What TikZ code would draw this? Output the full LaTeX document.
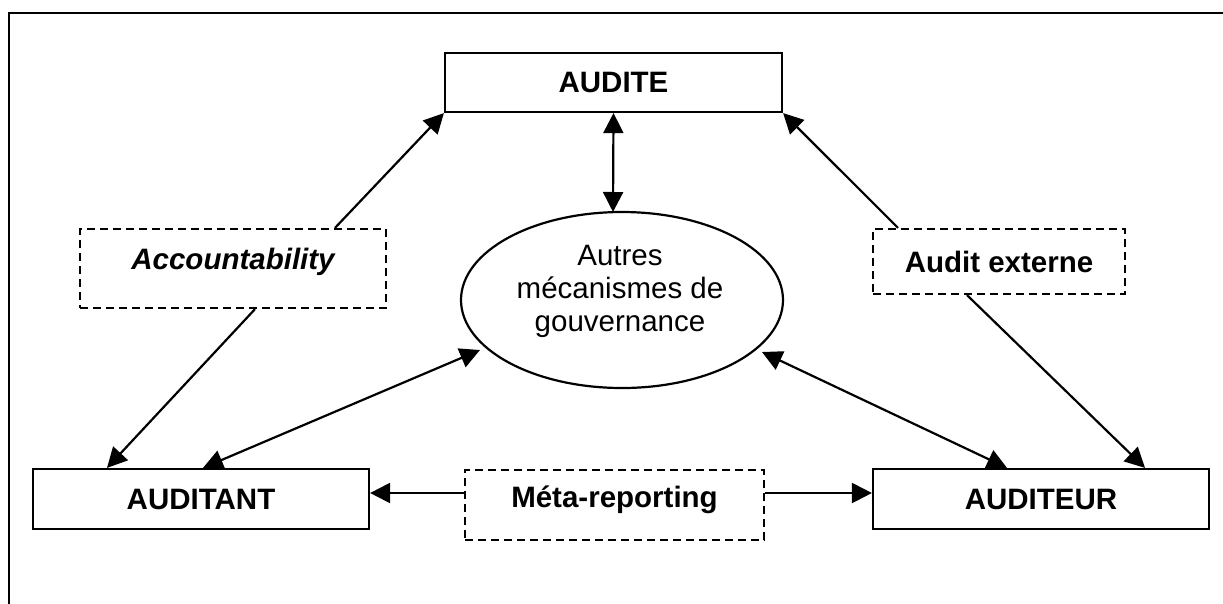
\documentclass[tikz,border=0pt]{standalone}
\usepackage{fontspec}
\setmainfont{Liberation Sans}
\usetikzlibrary{arrows.meta,shapes.geometric,calc}
\tikzset{
  solidbox/.style={draw, line width=2.2pt, minimum width=#1, inner sep=0pt},
  dashbox/.style={draw, line width=2.2pt, dash pattern=on 8pt off 5pt, inner sep=0pt},
  conn/.style={line width=2.2pt, -{Triangle[length=20pt,width=20pt]}},
  biconn/.style={line width=2.2pt, {Triangle[length=20pt,width=20pt]}-{Triangle[length=20pt,width=20pt]}},
  lbl/.style={font=\fontsize{29.5}{33}\selectfont\bfseries, inner sep=0pt},
}
\begin{document}
\begin{tikzpicture}[x=1pt,y=-1pt]
\useasboundingbox (0,0) rectangle (1223,603);
\begin{scope}
\clip (0,0) rectangle (1223,603);
\draw[line width=2.8pt] (9,13) rectangle (1240,620);
\end{scope}

% main boxes
\node[solidbox=337pt, minimum height=59pt, lbl] (audite) at (613.5,82.5) {AUDITE};
\node[solidbox=336pt, minimum height=60pt, lbl] (auditant) at (201,499) {AUDITANT};
\node[solidbox=336pt, minimum height=60pt, lbl] (auditeur) at (1041,499) {AUDITEUR};

% ellipse
\node[draw, ellipse, line width=2.2pt, minimum width=322pt, minimum height=176pt, inner sep=0pt] (gov) at (622,300) {};
\node[font=\fontsize{29.5}{33}\selectfont, align=center, inner sep=0pt] (govtxt) at (620,291) {Autres\\mécanismes de\\gouvernance};

% dashed boxes
\node[dashbox, minimum width=306pt, minimum height=79pt] (acc) at (233,268.5) {};
\node[lbl, font=\fontsize{29.5}{33}\selectfont\bfseries\itshape] (acctxt) at (233,262) {Accountability};
\node[dashbox, minimum width=252pt, minimum height=65pt, lbl] (ext) at (999,261.5) {Audit externe};
\node[dashbox, minimum width=299pt, minimum height=70pt] (meta) at (614.5,505) {};
\node[lbl] (metatxt) at (614.5,500) {Méta-reporting};

% connectors
\draw[conn] ($(acc.north)+(102,0)$) -- (audite.south west);
\draw[conn] ($(acc.south)+(22,0)$) -- ($(auditant.north)+(-94,0)$);
\draw[conn] ($(ext.north)+(-101,0)$) -- (audite.south east);
\draw[conn] ($(ext.south)+(-32,0)$) -- ($(auditeur.north)+(104,0)$);
\draw[biconn] (audite.south) -- ($(gov.center)+(-9,-88)$);
\draw[biconn] ($(gov.center)+(-142,50)$) -- ($(auditant.north)+(2,0)$);
\draw[biconn] ($(gov.center)+(140,52)$) -- ($(auditeur.north)+(-34,0)$);
\draw[conn] ($(meta.west)+(0,-12)$) -- ($(auditant.east)+(0,-6)$);
\draw[conn] ($(meta.east)+(0,-12)$) -- ($(auditeur.west)+(0,-6)$);
\end{tikzpicture}
\end{document}
